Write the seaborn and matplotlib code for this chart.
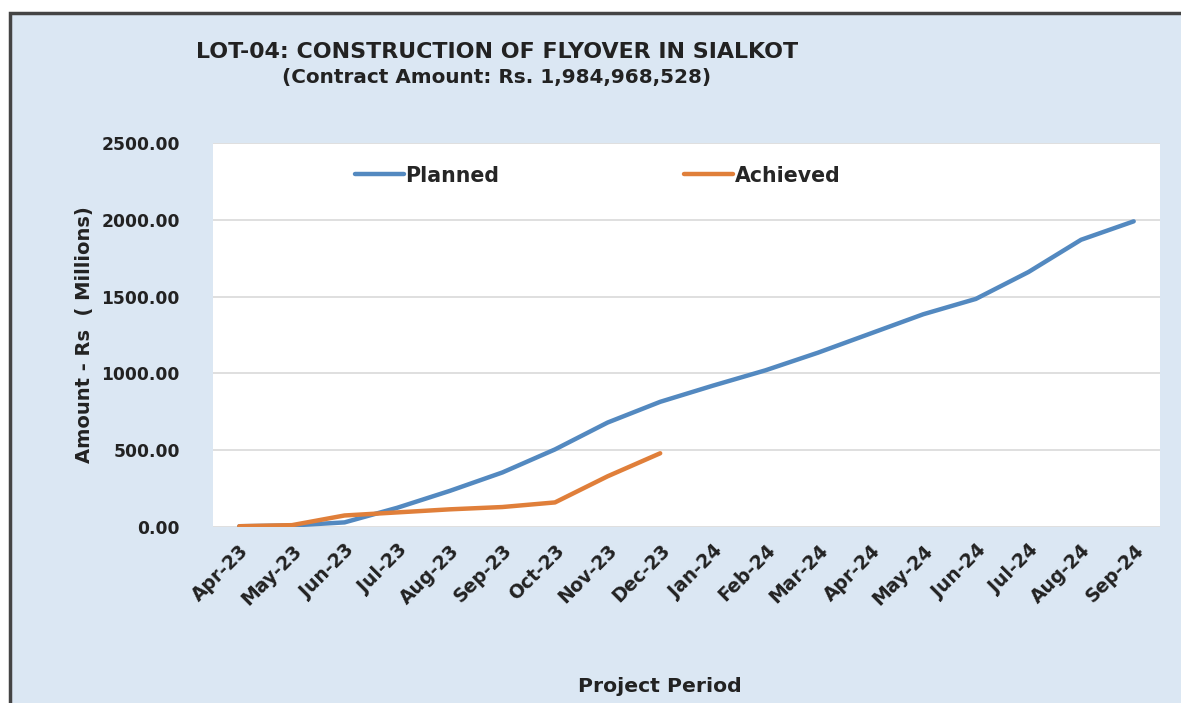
import numpy as np
import pandas as pd
import matplotlib
matplotlib.use('Agg')
import matplotlib.pyplot as plt
import matplotlib.ticker as mtick
from matplotlib.lines import Line2D
import seaborn as sns

# ── Data ─────────────────────────────────────────────────────
months = ['Apr-23', 'May-23', 'Jun-23', 'Jul-23', 'Aug-23', 'Sep-23',
          'Oct-23', 'Nov-23', 'Dec-23', 'Jan-24', 'Feb-24', 'Mar-24',
          'Apr-24', 'May-24', 'Jun-24', 'Jul-24', 'Aug-24', 'Sep-24']
planned = [5, 10, 30, 125, 235, 355, 505, 680, 815, 920, 1020, 1135,
           1260, 1385, 1485, 1660, 1870, 1990]
achieved = [5, 12, 75, 95, 115, 130, 160, 330, 480]

BLUE = '#5389c0'
ORANGE = '#e07f3a'
BG = '#dbe7f3'
TXT = '#222222'

sns.set_theme(style='white')
plt.rcParams['font.family'] = ['DejaVu Sans']

df = pd.concat([
    pd.DataFrame({'month': months, 'pos': range(len(months)),
                  'amount': planned, 'series': 'Planned'}),
    pd.DataFrame({'month': months[:len(achieved)], 'pos': range(len(achieved)),
                  'amount': achieved, 'series': 'Achieved'}),
])

fig = plt.figure(figsize=(11.81, 7.03), dpi=100)
fig.patch.set_facecolor('white')

# light blue chart area with dark frame (left/top visible)
frame = plt.Rectangle((10 / 1181, -0.05), 1.2, 0.05 + (1 - 13 / 703),
                      transform=fig.transFigure, facecolor=BG,
                      edgecolor='#444444', linewidth=2.5, zorder=-10)
fig.patches.append(frame)

ax = fig.add_axes([213 / 1181, 1 - 527 / 703, (1160 - 213) / 1181, (527 - 143) / 703])
ax.set_facecolor('white')

sns.lineplot(data=df, x='pos', y='amount', hue='series',
             palette={'Planned': BLUE, 'Achieved': ORANGE},
             linewidth=3.2, ax=ax, legend=False, sort=False)

ax.set_xlim(-0.5, len(months) - 0.5)
ax.set_ylim(0, 2500)
ax.set_yticks(np.arange(0, 2501, 500))
ax.yaxis.set_major_formatter(mtick.FormatStrFormatter('%.2f'))
ax.grid(axis='y', color='#d9d9d9', linewidth=1.2)
ax.set_axisbelow(True)
for s in ax.spines.values():
    s.set_visible(False)

ax.set_xticks(range(len(months)))
ax.set_xticklabels(months, rotation=45, ha='right', rotation_mode='anchor',
                   fontsize=13.5, fontweight='bold', color=TXT)
ax.tick_params(axis='x', length=0, pad=10)
ax.tick_params(axis='y', length=0, pad=24, labelsize=12.3, labelcolor=TXT)
for lbl in ax.get_yticklabels():
    lbl.set_fontweight('bold')

ax.set_xlabel('')
ax.set_ylabel('Amount - Rs  ( Millions)', fontsize=14, fontweight='bold', color=TXT)
ax.yaxis.set_label_coords((94 - 213) / 947, 0.5)

fig.text(497 / 1181, 1 - 52 / 703, 'LOT-04: CONSTRUCTION OF FLYOVER IN SIALKOT',
         ha='center', va='center', fontsize=15.9, fontweight='bold', color=TXT)
fig.text(497 / 1181, 1 - 78 / 703, '(Contract Amount: Rs. 1,984,968,528)',
         ha='center', va='center', fontsize=14.4, fontweight='bold', color=TXT)
fig.text(660 / 1181, 1 - 687 / 703, 'Project Period',
         ha='center', va='center', fontsize=14.7, fontweight='bold', color=TXT)

handles = [Line2D([], [], color=BLUE, linewidth=3.2),
           Line2D([], [], color=ORANGE, linewidth=3.2)]
ax.legend(handles, ['Planned', 'Achieved'], ncol=2, frameon=False,
          loc='center', bbox_to_anchor=(0.406, 0.915),
          handlelength=2.4, handletextpad=0.05, columnspacing=9.0,
          prop={'weight': 'bold', 'size': 14.8})

fig.savefig('out.png', dpi=100, facecolor='white')
